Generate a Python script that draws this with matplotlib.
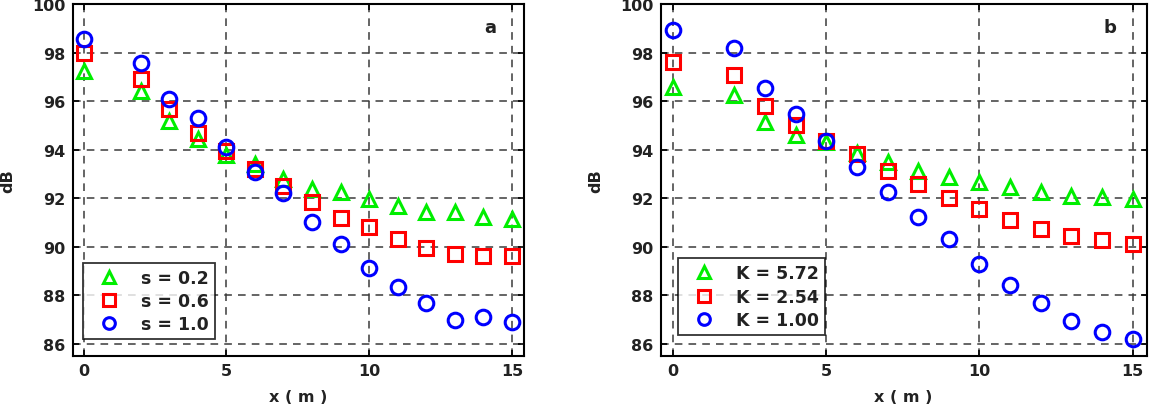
import matplotlib
matplotlib.use("Agg")
import matplotlib.pyplot as plt

plt.rcParams['font.family'] = ['DejaVu Sans']
plt.rcParams['font.weight'] = 'bold'

x_a = [0, 2, 3, 4, 5, 6, 7, 8, 9, 10, 11, 12, 13, 14, 15]
s02 = [97.22, 96.41, 95.18, 94.44, 93.76, 93.40, 92.80, 92.37, 92.26, 91.96, 91.66, 91.45, 91.45, 91.23, 91.16]
s06 = [98.00, 96.89, 95.66, 94.68, 93.96, 93.20, 92.50, 91.85, 91.20, 90.82, 90.33, 89.93, 89.72, 89.61, 89.61]
s10 = [98.56, 97.57, 96.10, 95.32, 94.12, 93.08, 92.20, 91.02, 90.10, 89.12, 88.33, 87.70, 86.98, 87.10, 86.90]
labels_a = ['s = 0.2', 's = 0.6', 's = 1.0']

x_b = [0, 2, 3, 4, 5, 6, 7, 8, 9, 10, 11, 12, 13, 14, 15]
k572 = [96.59, 96.27, 95.12, 94.60, 94.30, 93.86, 93.50, 93.13, 92.88, 92.65, 92.45, 92.24, 92.10, 92.03, 91.96]
k254 = [97.59, 97.06, 95.80, 95.00, 94.37, 93.82, 93.10, 92.57, 92.00, 91.55, 91.11, 90.75, 90.46, 90.27, 90.12]
k100 = [98.93, 98.18, 96.56, 95.46, 94.37, 93.28, 92.27, 91.22, 90.30, 89.31, 88.43, 87.68, 86.96, 86.49, 86.18]
labels_b = ['K = 5.72', 'K = 2.54', 'K = 1.00']

xticks = [0, 5, 10, 15]
yticks = [86, 88, 90, 92, 94, 96, 98, 100]

colors = ['#00ee00', '#ff0000', '#0000ff']
markers = ['^', 's', 'o']

fig = plt.figure(figsize=(11.59, 4.06), dpi=100)
ax1 = fig.add_axes([0.0627, 0.1207, 0.3894, 0.867])
ax2 = fig.add_axes([0.570, 0.1207, 0.4194, 0.867])

def draw(ax, xs, series, labels, letter, xlim, leg_anchor):
    for ys, c, m, lab in zip(series, colors, markers, labels):
        ax.plot(xs, ys, linestyle='none', marker=m, markersize=10.5,
                markerfacecolor='none', markeredgecolor=c, markeredgewidth=2.2,
                label=lab)
    ax.set_xlim(*xlim)
    ax.set_ylim(85.5, 100)
    ax.set_xticks(xticks)
    ax.set_yticks(yticks)
    ax.grid(True, linestyle=(0, (5, 4)), color='#3a3a3a', linewidth=1.1)
    ax.tick_params(direction='in', top=True, right=True, length=4, width=1.2,
                   labelsize=11.5, pad=5)
    for lbl in ax.get_xticklabels() + ax.get_yticklabels():
        lbl.set_fontweight('bold')
        lbl.set_color('#222222')
    for sp in ax.spines.values():
        sp.set_linewidth(1.5)
    ax.set_xlabel('x ( m )', fontsize=11.5, fontweight='bold', labelpad=8,
                  color='#222222')
    ax.set_ylabel('dB', fontsize=11.5, fontweight='bold', labelpad=12,
                  color='#222222')
    ax.text(0.925, 0.935, letter, transform=ax.transAxes, ha='center', va='center',
            fontsize=13, fontweight='bold', color='#222222')
    leg = ax.legend(loc='lower left', bbox_to_anchor=leg_anchor, fontsize=12.5,
                    frameon=True, fancybox=False, edgecolor='black',
                    handletextpad=0.7, borderpad=0.35, labelspacing=0.3,
                    markerscale=0.8, handlelength=2.3, borderaxespad=0)
    leg.get_frame().set_linewidth(1.3)
    for t in leg.get_texts():
        t.set_fontweight('bold')
        t.set_color('#222222')

draw(ax1, x_a, [s02, s06, s10], labels_a, 'a', (-0.38, 15.42), (0.022, 0.048))
draw(ax2, x_b, [k572, k254, k100], labels_b, 'b', (-0.41, 15.46), (0.036, 0.06))

fig.savefig('out.png', dpi=100)
